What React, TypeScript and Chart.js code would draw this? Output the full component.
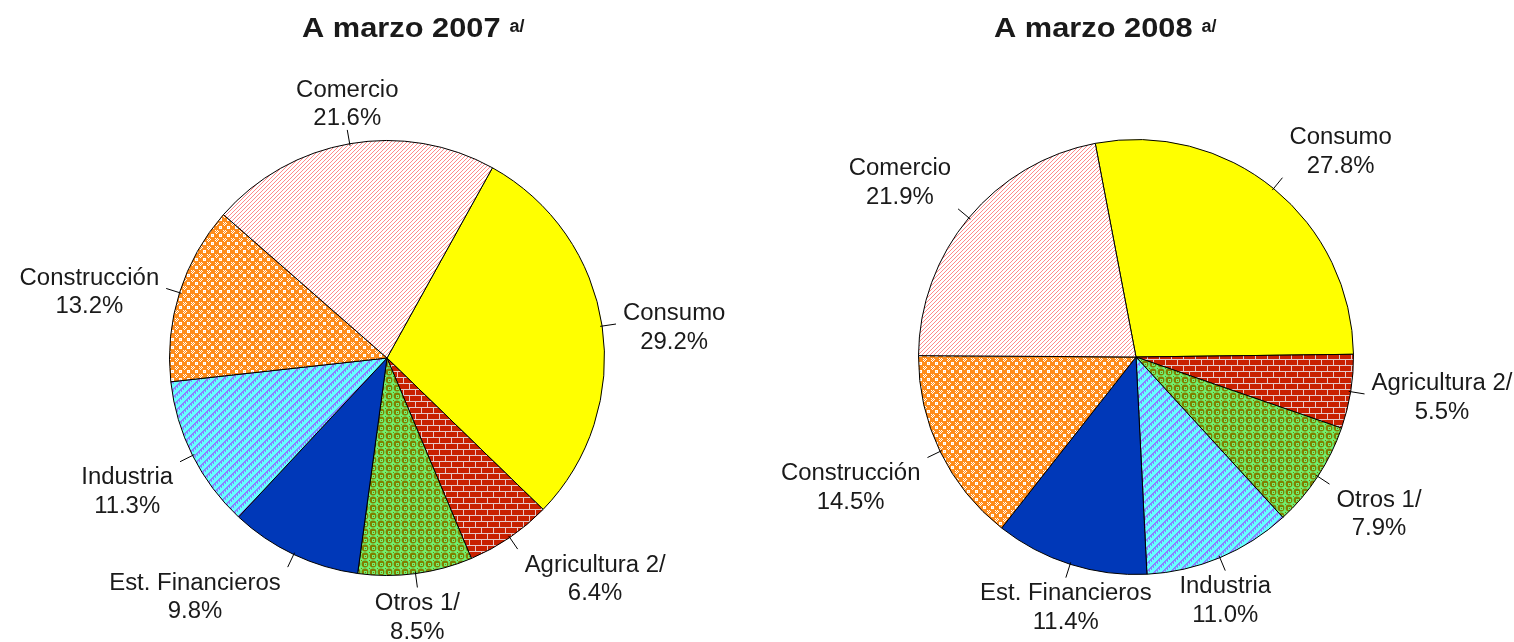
import React, { useEffect, useRef } from 'react';
import { Chart, ArcElement, PieController } from 'chart.js';

Chart.register(ArcElement, PieController);

// ---------- data ----------
const categories2007 = ['Consumo', 'Agricultura 2/', 'Otros 1/', 'Est. Financieros', 'Industria', 'Construcción', 'Comercio'];
const values2007 = [29.2, 6.4, 8.5, 9.8, 11.3, 13.2, 21.6];

const categories2008 = ['Consumo', 'Agricultura 2/', 'Otros 1/', 'Industria', 'Est. Financieros', 'Construcción', 'Comercio'];
const values2008 = [27.8, 5.5, 7.9, 11.0, 11.4, 14.5, 21.9];

const title2007 = 'A marzo 2007';
const title2008 = 'A marzo 2008';
const titleNote = 'a/';

// ---------- styles ----------
const FONT_FAMILY = '"Liberation Sans", Arial, Helvetica, sans-serif';
const LABEL_FONT = `23px ${FONT_FAMILY}`;
const LABEL_SX = 1.04;
const TITLE_FONT = `bold 28px ${FONT_FAMILY}`;
const TITLE_SX = 1.1;
const NOTE_FONT = `bold 18px ${FONT_FAMILY}`;
const LINE_H = 28.5;
const LEADER = 14;
const GAP_X = 7;
const GAP_Y = 3;

function makeTile(w: number, h: number, draw: (g: CanvasRenderingContext2D) => void) {
  const c = document.createElement('canvas');
  c.width = w;
  c.height = h;
  const g = c.getContext('2d') as CanvasRenderingContext2D;
  draw(g);
  return c;
}

function px(g: CanvasRenderingContext2D, color: string, pts: number[][]) {
  g.fillStyle = color;
  pts.forEach(([x, y]) => g.fillRect(x, y, 1, 1));
}

function makeFill(ctx: CanvasRenderingContext2D, name: string, shift: number): any {
  let tile: HTMLCanvasElement | null = null;
  switch (name) {
    case 'Consumo':
      return '#FFFF00';
    case 'Est. Financieros':
      return '#0038B8';
    case 'Comercio':
      tile = makeTile(4, 4, (g) => {
        g.fillStyle = '#FFFFFF';
        g.fillRect(0, 0, 4, 4);
        px(g, '#FF8A8A', [[3, 0], [2, 1], [1, 2], [0, 3]]);
      });
      break;
    case 'Construcción':
      tile = makeTile(8, 8, (g) => {
        g.fillStyle = '#FF8C1A';
        g.fillRect(0, 0, 8, 8);
        px(g, '#FFFFFF', [
          [2, 2], [3, 2], [4, 2], [2, 3], [4, 3], [2, 4], [3, 4], [4, 4],
          [6, 6], [7, 7], [0, 0],
          [6, 0], [7, 1], [0, 6], [1, 7],
        ]);
        px(g, '#FFD0A0', [[3, 3]]);
      });
      break;
    case 'Industria':
      tile = makeTile(8, 8, (g) => {
        g.fillStyle = '#66FFFF';
        g.fillRect(0, 0, 8, 8);
        const pts: number[][] = [];
        for (let y = 0; y < 8; y++) {
          for (let x = 0; x < 8; x++) {
            const k = (x + y) % 8;
            if (k < 3 && !(k === 2 && x % 2 === 1)) pts.push([x, y]);
            if (k === 3 && x % 2 === 0) pts.push([x, y]);
          }
        }
        px(g, '#8A80FF', pts);
      });
      break;
    case 'Otros 1/':
      tile = makeTile(8, 8, (g) => {
        g.fillStyle = '#70F070';
        g.fillRect(0, 0, 8, 8);
        g.fillStyle = '#808000';
        g.beginPath();
        g.arc(4, 4, 3.4, 0, Math.PI * 2);
        g.fill();
        px(g, '#70F070', [[3, 3], [4, 3], [5, 3], [3, 4], [5, 4], [3, 5], [4, 5], [5, 5]]);
        px(g, '#808000', [[0, 0]]);
      });
      break;
    case 'Agricultura 2/':
      tile = makeTile(12, 12, (g) => {
        g.fillStyle = '#E6C8C8';
        g.fillRect(0, 0, 12, 12);
        g.fillStyle = '#C82000';
        g.fillRect(1, 0, 11, 5);
        g.fillRect(0, 6, 6, 5);
        g.fillRect(7, 6, 5, 5);
      });
      break;
    default:
      return '#CCCCCC';
  }
  const pattern = ctx.createPattern(tile as HTMLCanvasElement, 'repeat') as CanvasPattern;
  if (shift && typeof DOMMatrix !== 'undefined' && pattern.setTransform) {
    pattern.setTransform(new DOMMatrix().translate(shift, 0));
  }
  return pattern;
}

function makeLabelPlugin() {
  return {
    id: 'pieLabels',
    afterDatasetsDraw(chart: any) {
      const ctx: CanvasRenderingContext2D = chart.ctx;
      const meta = chart.getDatasetMeta(0);
      const labels = chart.data.labels as string[];
      const data = chart.data.datasets[0].data as number[];
      ctx.save();
      ctx.font = LABEL_FONT;
      ctx.fillStyle = '#1A1A1A';
      ctx.strokeStyle = '#000000';
      ctx.lineWidth = 1;
      meta.data.forEach((arc: any, i: number) => {
        const p = arc.getProps(['x', 'y', 'startAngle', 'endAngle', 'outerRadius'], true);
        const mid = (p.startAngle + p.endAngle) / 2;
        const dx = Math.cos(mid);
        const dy = Math.sin(mid);
        const x1 = p.x + dx * (p.outerRadius - 2);
        const y1 = p.y + dy * (p.outerRadius - 2);
        const x2 = p.x + dx * (p.outerRadius + LEADER);
        const y2 = p.y + dy * (p.outerRadius + LEADER);
        ctx.beginPath();
        ctx.moveTo(x1, y1);
        ctx.lineTo(x2, y2);
        ctx.stroke();

        const lines = [labels[i], data[i].toFixed(1) + '%'];
        const w = Math.max(...lines.map((t) => ctx.measureText(t).width)) * LABEL_SX;
        const h = LINE_H * lines.length;
        const fx = Math.abs(dx) > 0.4 ? Math.sign(dx) : 0;
        const fy = Math.abs(dy) > 0.35 ? Math.sign(dy) : 0;
        const cx = x2 + fx * (w / 2 + GAP_X);
        let cy: number;
        if (fy > 0) cy = y2 + h / 2 + GAP_Y - 1;
        else if (fy < 0) cy = y2 - h / 2 + 3;
        else cy = y2 + 4;
        ctx.textAlign = 'center';
        ctx.textBaseline = 'middle';
        lines.forEach((t, k) => {
          ctx.save();
          ctx.translate(cx, cy + (k - (lines.length - 1) / 2) * LINE_H);
          ctx.scale(LABEL_SX, 1);
          ctx.fillText(t, 0, 0);
          ctx.restore();
        });
      });
      ctx.restore();
    },
  };
}

function makeTitlePlugin(title: string, x: number, baseline: number) {
  return {
    id: 'pieTitle',
    afterDraw(chart: any) {
      const ctx: CanvasRenderingContext2D = chart.ctx;
      ctx.save();
      ctx.fillStyle = '#1A1A1A';
      ctx.textAlign = 'left';
      ctx.textBaseline = 'alphabetic';
      ctx.font = TITLE_FONT;
      const tw = ctx.measureText(title).width * TITLE_SX;
      ctx.save();
      ctx.translate(x, baseline);
      ctx.scale(TITLE_SX, 1);
      ctx.fillText(title, 0, 0);
      ctx.restore();
      ctx.font = NOTE_FONT;
      ctx.fillText(titleNote, x + tw + 9, baseline - 5);
      ctx.restore();
    },
  };
}

interface PieProps {
  labels: string[];
  values: number[];
  title: string;
  titleX: number;
  rotation: number;
  patternShift: number;
  padding: { left: number; right: number; top: number; bottom: number };
}

function PieChart({ labels, values, title, titleX, rotation, patternShift, padding }: PieProps) {
  const ref = useRef<HTMLCanvasElement | null>(null);
  useEffect(() => {
    const canvas = ref.current as HTMLCanvasElement;
    const ctx = canvas.getContext('2d') as CanvasRenderingContext2D;
    const chart = new Chart(ctx, {
      type: 'pie',
      data: {
        labels,
        datasets: [
          {
            data: values,
            backgroundColor: labels.map((l) => makeFill(ctx, l, patternShift)),
            borderColor: '#000000',
            borderWidth: 1,
          },
        ],
      },
      options: {
        responsive: false,
        animation: false,
        rotation,
        layout: { padding },
        plugins: { legend: { display: false }, tooltip: { enabled: false } },
      } as any,
      plugins: [makeLabelPlugin(), makeTitlePlugin(title, titleX, 37)],
    });
    return () => chart.destroy();
  }, [labels, values, title, titleX, rotation, patternShift, padding]);
  return <canvas ref={ref} width={757} height={642} style={{ display: 'block' }} />;
}

const leftPadding = { left: 169, right: 152, top: 140, bottom: 66 };
const rightPadding = { left: 161, right: 160, top: 139, bottom: 67 };

export default function App() {
  return (
    <div
      style={{
        position: 'fixed',
        left: 0,
        top: 0,
        width: 1514,
        height: 642,
        background: '#FFFFFF',
        overflow: 'hidden',
      }}
    >
      <div style={{ position: 'absolute', left: 0, top: 0, width: 757, height: 642 }}>
        <PieChart
          labels={categories2007}
          values={values2007}
          title={title2007}
          titleX={302}
          rotation={29}
          patternShift={1}
          padding={leftPadding}
        />
      </div>
      <div style={{ position: 'absolute', left: 757, top: 0, width: 757, height: 642 }}>
        <PieChart
          labels={categories2008}
          values={values2008}
          title={title2008}
          titleX={237}
          rotation={-10.8}
          patternShift={0}
          padding={rightPadding}
        />
      </div>
    </div>
  );
}
